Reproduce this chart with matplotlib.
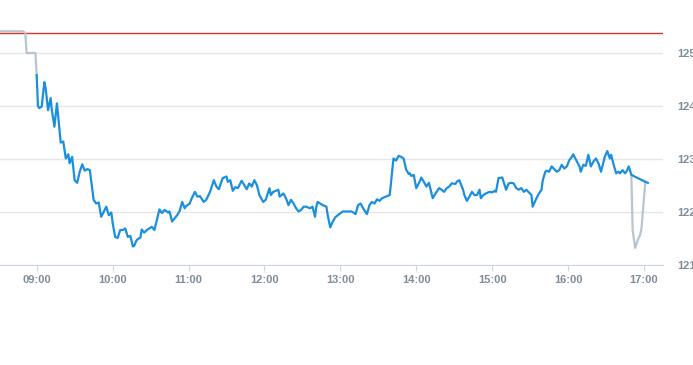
import matplotlib
matplotlib.use("Agg")
import matplotlib.pyplot as plt

# minutes after 09:00 open, price
PRE_MIN = [-29, -11, -9, -8, -1, 0]
PRE_PX = [125.41, 125.41, 125.38, 125.00, 125.00, 124.58]

BLUE_MIN = [0, 1, 2, 4, 6, 7, 9, 11, 12, 14, 16, 19, 21, 23, 25, 26, 28, 30, 32, 34,
            36, 38, 40, 42, 45, 47, 49, 51, 55, 57, 59, 60, 62, 64, 66, 68, 70, 72, 74, 76,
            77, 79, 82, 83, 85, 87, 89, 91, 93, 95, 97, 99, 101, 104, 105, 107, 109, 111, 113, 115,
            117, 118, 121, 122, 125, 127, 129, 132, 134, 137, 140, 142, 144, 147, 150, 151, 153, 155, 157, 159,
            162, 164, 166, 168, 170, 172, 174, 176, 179, 181, 184, 185, 187, 191, 192, 195, 197, 199, 201, 203,
            205, 207, 209, 211, 213, 216, 218, 220, 221, 222, 224, 226, 229, 230, 232, 234, 236, 239, 242, 245,
            249, 252, 254, 256, 258, 261, 263, 265, 267, 269, 271, 273, 276, 279, 280, 281, 282, 284, 286, 288,
            290, 292, 294, 295, 296, 298, 300, 302, 304, 306, 308, 310, 313, 315, 318, 320, 322, 324, 326, 328,
            331, 332, 334, 337, 338, 340, 342, 344, 346, 348, 350, 351, 353, 355, 358, 360, 362, 363, 365, 368,
            369, 371, 373, 375, 377, 379, 381, 383, 385, 387, 389, 391, 392, 395, 397, 399, 400, 402, 403, 405,
            407, 409, 411, 413, 415, 417, 419, 421, 423, 424, 427, 429, 430, 432, 434, 436, 438, 440, 442, 444,
            446, 448, 449, 451, 453, 454, 456, 458, 460, 461, 463, 465, 466, 468, 470, 481, 483]
BLUE_PX = [124.58, 124.00, 123.96, 123.99, 124.45, 124.35, 123.92, 124.15, 123.92, 123.61, 124.05, 123.31, 123.33, 123.01, 123.09, 122.92, 123.04, 122.60, 122.55, 122.76,
           122.90, 122.78, 122.81, 122.79, 122.23, 122.16, 122.18, 121.91, 122.10, 121.94, 121.99, 121.80, 121.53, 121.51, 121.66, 121.66, 121.69, 121.53, 121.55, 121.35,
           121.36, 121.47, 121.52, 121.67, 121.61, 121.66, 121.69, 121.72, 121.66, 121.85, 122.05, 121.98, 122.04, 121.99, 122.01, 121.82, 121.88, 121.94, 122.02, 122.19,
           122.07, 122.11, 122.16, 122.23, 122.38, 122.29, 122.30, 122.19, 122.23, 122.38, 122.60, 122.48, 122.43, 122.64, 122.67, 122.57, 122.60, 122.40, 122.47, 122.45,
           122.59, 122.51, 122.43, 122.54, 122.48, 122.60, 122.51, 122.32, 122.19, 122.23, 122.45, 122.32, 122.38, 122.42, 122.29, 122.35, 122.26, 122.13, 122.23, 122.16,
           122.07, 122.01, 122.04, 122.10, 122.10, 122.07, 122.10, 121.91, 122.10, 122.19, 122.16, 122.13, 122.10, 121.94, 121.71, 121.82, 121.90, 121.96, 122.01, 122.01,
           122.01, 121.96, 122.13, 122.16, 122.07, 121.96, 122.13, 122.19, 122.16, 122.24, 122.21, 122.26, 122.29, 122.32, 122.54, 122.79, 123.01, 122.97, 123.06, 123.04,
           123.01, 122.80, 122.72, 122.73, 122.68, 122.70, 122.45, 122.54, 122.65, 122.57, 122.48, 122.55, 122.26, 122.34, 122.45, 122.42, 122.38, 122.45, 122.48, 122.54,
           122.53, 122.57, 122.60, 122.42, 122.32, 122.21, 122.29, 122.38, 122.32, 122.32, 122.42, 122.26, 122.32, 122.35, 122.38, 122.37, 122.40, 122.38, 122.64, 122.65,
           122.57, 122.42, 122.54, 122.55, 122.54, 122.45, 122.42, 122.45, 122.38, 122.42, 122.37, 122.32, 122.10, 122.26, 122.35, 122.42, 122.60, 122.76, 122.78, 122.76,
           122.86, 122.81, 122.76, 122.79, 122.89, 122.82, 122.86, 122.98, 123.04, 123.09, 122.95, 122.86, 122.76, 122.89, 122.87, 123.08, 122.86, 122.95, 123.01, 122.92,
           122.76, 122.95, 123.04, 123.15, 123.01, 123.08, 122.89, 122.73, 122.76, 122.73, 122.79, 122.73, 122.76, 122.86, 122.70, 122.57, 122.55]

POST_MIN = [470, 471, 473, 475, 477, 478, 481]
POST_PX = [122.70, 121.66, 121.32, 121.47, 121.57, 121.69, 122.57]

PREV_CLOSE = 125.38
HOURS = ["09:00", "10:00", "11:00", "12:00", "13:00", "14:00", "15:00", "16:00", "17:00"]
Y_TICKS = [121, 122, 123, 124, 125]

LBL = "#7f8c9a"

fig = plt.figure(figsize=(6.93, 3.65), dpi=100)
ax = fig.add_axes([0, 100 / 365, 663 / 693, 265 / 365])

ax.axhline(PREV_CLOSE, color="#d0342c", lw=1.0, zorder=2)
ax.plot(PRE_MIN, PRE_PX, color="#b9c5ce", lw=1.6, zorder=3)
ax.plot(POST_MIN, POST_PX, color="#b9c5ce", lw=1.6, zorder=3)
ax.plot(BLUE_MIN, BLUE_PX, color="#1a8fe0", lw=1.6, zorder=4, solid_joinstyle="round")

ax.set_xlim(-29, 495)
ax.set_ylim(121, 126)
ax.set_xticks([60 * i for i in range(len(HOURS))])
ax.set_xticklabels(HOURS)
ax.set_yticks(Y_TICKS)
ax.yaxis.tick_right()
ax.grid(axis="y", color="#e6e6e6", lw=1.0)
ax.set_axisbelow(True)
for s in ("top", "left", "right"):
    ax.spines[s].set_visible(False)
ax.spines["bottom"].set_color("#ccd6eb")
ax.tick_params(axis="x", length=4, color="#ccd6eb", pad=3, labelsize=8, labelcolor=LBL)
ax.tick_params(axis="y", length=0, pad=10, labelsize=8, labelcolor=LBL)
for t in ax.get_xticklabels() + ax.get_yticklabels():
    t.set_fontweight("bold")
    t.set_family("Liberation Sans")

fig.savefig("out.png", dpi=100)
